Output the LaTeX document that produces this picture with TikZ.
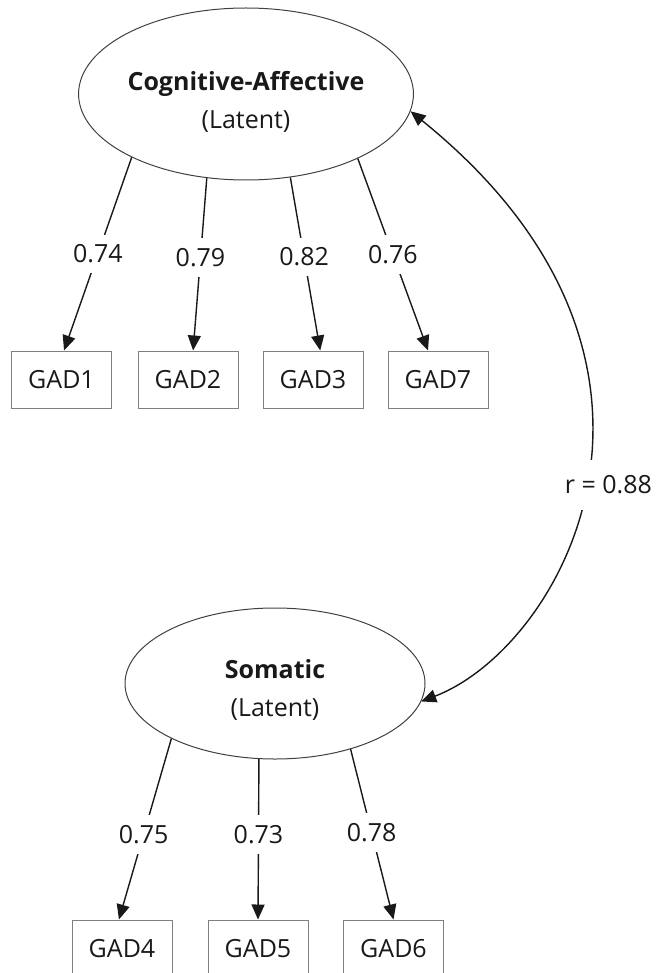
\documentclass[tikz,border=0pt]{standalone}
\usepackage{fontspec}
\setmainfont{Open Sans}
\usetikzlibrary{shapes.geometric,arrows.meta}

\begin{document}
\begin{tikzpicture}[x=0.5pt, y=-0.5pt,
    every node/.style={font=\fontsize{12.5pt}{19pt}\selectfont, text=black!90},
    latent/.style={draw=black!75, ellipse, inner sep=0pt, line width=0.5pt, align=center},
    item/.style={draw=black!50, rectangle, minimum width=50pt, minimum height=28.5pt, inner sep=0pt, line width=0.5pt},
    load/.style={-{Triangle[length=7.5pt, width=6.5pt]}, line width=0.7pt, draw=black!90},
    coef/.style={fill=white, inner xsep=2pt, inner ysep=5pt}]

    \useasboundingbox (0,0) rectangle (656,973);
    \clip (0,0) rectangle (656,973);

    % factors
    \node[latent, minimum width=167pt, minimum height=86pt] (CA) at (246,94) {\rule{0pt}{17pt}\textbf{Cognitive-Affective}\\(Latent)};
    \node[latent, minimum width=150pt, minimum height=75.5pt] (SO) at (275,683.5) {\rule{0pt}{16pt}\textbf{Somatic}\\(Latent)};

    % items
    \node[item] (G1) at (61.5,379.5) {GAD1};
    \node[item] (G2) at (188,379.5) {GAD2};
    \node[item] (G3) at (313,379.5) {GAD3};
    \node[item] (G7) at (438,379.5) {GAD7};

    \node[item] (G4) at (122,948.5) {GAD4};
    \node[item] (G5) at (258,948.5) {GAD5};
    \node[item] (G6) at (393.5,948.5) {GAD6};

    % loadings
    \draw[load] (CA.209) -- node[coef, pos=0.5] {0.74} (G1.85);
    \draw[load] (CA.245) -- node[coef, pos=0.46] {0.79} (G2.80);
    \draw[load] (CA.298) -- node[coef, pos=0.46] {0.82} (G3.76);
    \draw[load] (CA.330) -- node[coef, pos=0.5] {0.76} (G7.109);

    \draw[load] (SO.208) -- node[coef, pos=0.53] {0.75} (G4.96);
    \draw[load] (SO.258) -- node[coef, pos=0.47] {0.73} (G5.north);
    \draw[load] (SO.319) -- node[coef, pos=0.49] {0.78} (G6.north);

    % factor correlation
    \draw[load, {Triangle[length=7.5pt, width=6.5pt]}-{Triangle[length=7.5pt, width=6.5pt]}] (CA.-6) .. controls (721,362) and (563,647) .. node[coef, xshift=11.5pt, yshift=-2.5pt, inner ysep=8pt] {r = 0.88} (SO.-7);
\end{tikzpicture}
\end{document}
